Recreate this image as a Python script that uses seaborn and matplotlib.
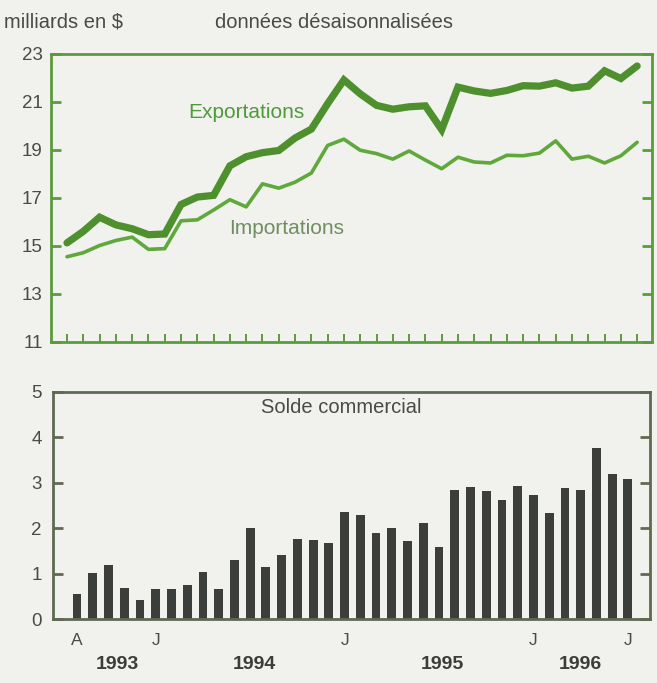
import matplotlib
matplotlib.use("Agg")
import matplotlib.pyplot as plt
import seaborn as sns
import numpy as np
import pandas as pd

# Monthly data, August 1993 to July 1996
months = pd.date_range("1993-08-01", periods=36, freq="MS")
exportations = [15.13, 15.61, 16.20, 15.88, 15.72, 15.47, 15.50, 16.73, 17.04, 17.11,
                18.34, 18.72, 18.89, 18.98, 19.50, 19.87, 20.93, 21.92,
                21.34, 20.86, 20.70, 20.80, 20.84, 19.85, 21.62, 21.46, 21.36, 21.48,
                21.68, 21.66, 21.80, 21.58, 21.66, 22.30, 21.98, 22.50]
importations = [14.55, 14.72, 15.02, 15.23, 15.37, 14.86, 14.89, 16.05, 16.09, 16.50,
                16.93, 16.63, 17.59, 17.41, 17.66, 18.04, 19.19, 19.45,
                18.99, 18.85, 18.62, 18.96, 18.58, 18.22, 18.70, 18.50, 18.46, 18.78,
                18.76, 18.87, 19.38, 18.62, 18.74, 18.46, 18.76, 19.32]
solde = [0.55, 1.02, 1.20, 0.69, 0.42, 0.66, 0.66, 0.75, 1.03, 0.66,
         1.31, 2.01, 1.15, 1.41, 1.77, 1.75, 1.68, 2.36,
         2.28, 1.90, 2.01, 1.72, 2.12, 1.58, 2.85, 2.91, 2.82, 2.63,
         2.92, 2.74, 2.34, 2.88, 2.85, 3.76, 3.19, 3.09]

month_labels = ["A", "", "", "", "", "J", "", "", "", "", "", "", "", "", "", "", "", "J",
                "", "", "", "", "", "", "", "", "", "", "", "J", "", "", "", "", "", "J"]
year_labels = ["1993", "1994", "1995", "1996"]
year_centers = [2.55, 11.3, 23.2, 32.0]

bg = "#f1f1ed"
green_dark = "#4e8f2e"
green_light = "#5ea83c"
frame_green = "#5c9a3e"
grey_text = "#4a4a48"
bar_col = "#3b3e3a"

sns.set_theme(style="white")
plt.rcParams["font.family"] = ["Liberation Sans", "DejaVu Sans"]

W, H = 657, 683
fig = plt.figure(figsize=(W / 100, H / 100), dpi=100, facecolor=bg)

def axrect(x0, y0, x1, y1):
    return [x0 / W, 1 - y1 / H, (x1 - x0) / W, (y1 - y0) / H]

# ---------- Top panel ----------
ax1 = fig.add_axes(axrect(51, 54, 652, 342), facecolor=bg)
idx = np.arange(len(months))
df = pd.DataFrame({"i": idx, "Exportations": exportations, "Importations": importations})
sns.lineplot(data=df, x="i", y="Exportations", ax=ax1, color=green_dark, lw=5.2,
             solid_joinstyle="miter")
sns.lineplot(data=df, x="i", y="Importations", ax=ax1, color=green_light, lw=2.6)
x_start, step = 67.0, 16.29
ax1.set_xlim(-(x_start - 51) / step, 35 + (652 - (x_start + 35 * step)) / step)
ax1.set_ylim(11, 23)
ax1.set_yticks([11, 13, 15, 17, 19, 21, 23])
ax1.set_yticklabels(["11", "13", "15", "17", "19", "21", "23"], fontsize=13.5, color=grey_text)
ax1.set_xlabel("")
ax1.set_ylabel("")
for s in ax1.spines.values():
    s.set_color(frame_green)
    s.set_linewidth(2.0)
ax1.tick_params(axis="y", direction="in", length=7, width=2.0, color=frame_green,
                left=True, right=True, pad=6)
ax1.set_xticks(idx)
ax1.set_xticklabels([])
ax1.tick_params(axis="x", direction="in", length=6, width=1.4, color=frame_green, bottom=True)
ax1.set_xticks([5, 17, 29], minor=True)
ax1.tick_params(axis="x", which="minor", direction="in", length=12, width=1.6,
                color=frame_green, bottom=True)
ax1.text(11.0, 20.58, "Exportations", fontsize=15, color="#4f9a3a", ha="center", va="center")
ax1.text(13.5, 15.75, "Importations", fontsize=15, color="#6f8f62", ha="center", va="center")

fig.text(4 / W, 1 - 22 / H, "milliards en $", fontsize=14.5, color=grey_text, va="center")
fig.text(215 / W, 1 - 22 / H, "données désaisonnalisées", fontsize=14.5, color=grey_text, va="center")

# ---------- Bottom panel ----------
ax2 = fig.add_axes(axrect(53, 392, 650, 619), facecolor=bg)
bdf = pd.DataFrame({"mois": [m.strftime("%Y-%m") for m in months], "solde": solde})
sns.barplot(data=bdf, x="mois", y="solde", ax=ax2, color=bar_col, width=0.56,
            saturation=1.0, edgecolor="none")
b_start, b_step = 77.0, 15.74
ax2.set_xlim(-(b_start - 53) / b_step, 35 + (650 - (b_start + 35 * b_step)) / b_step)
ax2.set_ylim(0, 5)
ax2.set_yticks([0, 1, 2, 3, 4, 5])
ax2.set_yticklabels(["0", "1", "2", "3", "4", "5"], fontsize=13.5, color=grey_text)
ax2.set_xlabel("")
ax2.set_ylabel("")
ax2.set_xticks(idx)
ax2.set_xticklabels(month_labels, fontsize=12.5, color=grey_text)
ax2.tick_params(axis="x", length=0, pad=10)
ax2.tick_params(axis="y", direction="in", length=7, width=2.0, color="#5e6a52",
                left=True, right=True, pad=8)
for s in ax2.spines.values():
    s.set_color("#5e6a52")
    s.set_linewidth(2.0)
for lab, xc in zip(year_labels, year_centers):
    ax2.text(xc, -0.2, lab, transform=ax2.get_xaxis_transform(), fontsize=14,
             fontweight="bold", color="#3c3c3a", ha="center", va="center")
ax2.text(0.482, 0.93, "Solde commercial", transform=ax2.transAxes, fontsize=14.5,
         color=grey_text, ha="center", va="center")

fig.savefig("out.png", dpi=100, facecolor=bg)
